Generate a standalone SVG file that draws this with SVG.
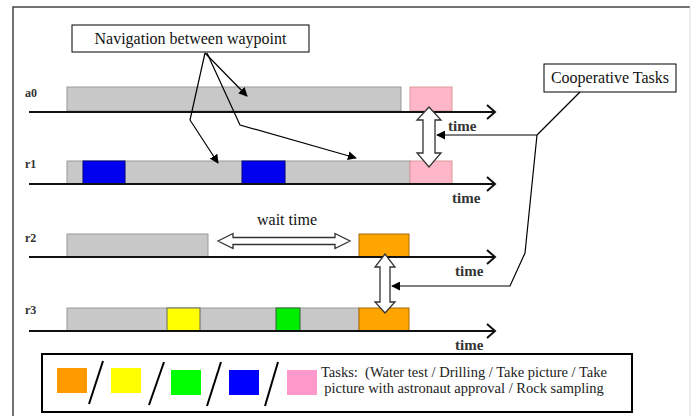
<svg xmlns="http://www.w3.org/2000/svg" width="691" height="416" viewBox="0 0 691 416">
  <defs>
    <marker id="tip" viewBox="0 0 10 10" refX="9" refY="5" markerWidth="9" markerHeight="9" markerUnits="userSpaceOnUse" orient="auto">
      <path d="M0,0 L10,5 L0,10 Z" fill="#000"/>
    </marker>
    <style>
      .frame { fill: none; stroke: #444; stroke-width: 1.5; }
      .axis { fill: none; stroke: #111; stroke-width: 2; }
      .chev { fill: none; stroke: #111; stroke-width: 2; stroke-linejoin: miter; }
      .bar { fill: #c8c8c8; stroke: #999; stroke-width: 1; }
      .nav { fill: #fff; stroke: #000; stroke-width: 1; }
      .lead { fill: none; stroke: #000; stroke-width: 1.2; }
      .hollow { fill: #fff; stroke: #333; stroke-width: 1.3; }
      text { font-family: 'Liberation Serif', 'DejaVu Serif', serif; }
      .lbl { font-size: 12px; font-weight: bold; fill: #333; }
      .time { font-size: 15px; font-weight: bold; fill: #333; }
      .txt { font-size: 16px; fill: #111; }
      .leg { font-size: 14.5px; fill: #222; }
    </style>
  </defs>

  <rect width="691" height="416" fill="#fff"/>
  <!-- page frame -->
  <path class="frame" d="M13,416 V7 H690"/>
  <line x1="690" y1="7" x2="690" y2="416" stroke="#ddd" stroke-width="1"/>

  <!-- timeline a0 -->
  <g id="row-a0">
    <rect class="bar" x="67" y="87" width="334" height="24"/>
    <rect x="410" y="87" width="42" height="24" fill="#ffb6c8" stroke="#d99" stroke-width="1"/>
    <line class="axis" x1="29" y1="112" x2="495" y2="112"/>
    <path class="chev" d="M487,105 L495,112 L487,119"/>
    <text class="lbl" x="25" y="97" font-family="Liberation Serif, serif">a0</text>
    <text class="time" x="448" y="131" font-family="Liberation Serif, serif">time</text>
  </g>

  <!-- timeline r1 -->
  <g id="row-r1">
    <rect class="bar" x="67" y="161" width="343" height="23"/>
    <rect x="83" y="161" width="42" height="23" fill="#0000ee" stroke="#000080" stroke-width="1"/>
    <rect x="242" y="161" width="43" height="23" fill="#0000ee" stroke="#000080" stroke-width="1"/>
    <rect x="410" y="161" width="42" height="23" fill="#ffb6c8" stroke="#d99" stroke-width="1"/>
    <line class="axis" x1="29" y1="184" x2="495" y2="184"/>
    <path class="chev" d="M487,177 L495,184 L487,191"/>
    <text class="lbl" x="25" y="168" font-family="Liberation Serif, serif">r1</text>
    <text class="time" x="452" y="203" font-family="Liberation Serif, serif">time</text>
  </g>

  <!-- timeline r2 -->
  <g id="row-r2">
    <rect class="bar" x="67" y="234" width="141" height="23"/>
    <rect x="359" y="234" width="50" height="23" fill="#ffa500" stroke="#a66a00" stroke-width="1"/>
    <line class="axis" x1="29" y1="257" x2="495" y2="257"/>
    <path class="chev" d="M487,250 L495,257 L487,264"/>
    <text class="lbl" x="25" y="242" font-family="Liberation Serif, serif">r2</text>
    <text class="time" x="455" y="276" font-family="Liberation Serif, serif">time</text>
  </g>

  <!-- timeline r3 -->
  <g id="row-r3">
    <rect class="bar" x="67" y="308" width="292" height="23"/>
    <rect x="167" y="308" width="33" height="23" fill="#ffff00" stroke="#666" stroke-width="1"/>
    <rect x="276" y="308" width="24" height="23" fill="#00ee00" stroke="#336633" stroke-width="1"/>
    <rect x="359" y="308" width="50" height="23" fill="#ffa500" stroke="#a66a00" stroke-width="1"/>
    <line class="axis" x1="29" y1="331" x2="495" y2="331"/>
    <path class="chev" d="M487,324 L495,331 L487,338"/>
    <text class="lbl" x="25" y="314" font-family="Liberation Serif, serif">r3</text>
    <text class="time" x="455" y="350" font-family="Liberation Serif, serif">time</text>
  </g>

  <!-- callout boxes -->
  <g id="nav-note">
    <rect class="nav" x="72" y="25" width="237" height="27"/>
    <text class="txt" x="190.5" y="44" text-anchor="middle" font-family="Liberation Serif, serif">Navigation between waypoint</text>
  </g>
  <g id="coop-note">
    <rect class="nav" x="544" y="64" width="132" height="28"/>
    <text class="txt" x="610" y="83" text-anchor="middle" font-family="Liberation Serif, serif">Cooperative Tasks</text>
  </g>

  <!-- wait time -->
  <g id="wait">
    <path class="hollow" d="M218,241 L233,233.5 L233,237.5 L335,237.5 L335,233.5 L350,241 L335,248.5 L335,244.5 L233,244.5 L233,248.5 Z"/>
    <text class="txt" x="287" y="225" text-anchor="middle" font-family="Liberation Serif, serif">wait time</text>
  </g>

  <!-- connectors -->
  <g id="connectors">
    <line class="lead" x1="205" y1="53" x2="247" y2="96" marker-end="url(#tip)"/>
    <polyline class="lead" points="205,53 190,120 218,163" marker-end="url(#tip)"/>
    <polyline class="lead" points="207,53 240,125 356,158" marker-end="url(#tip)"/>
    <line class="lead" x1="580" y1="92" x2="537" y2="135"/>
    <line class="lead" x1="537" y1="135" x2="437" y2="135" marker-end="url(#tip)"/>
    <polyline class="lead" points="537,135 525,253 510,286 392,286" marker-end="url(#tip)"/>
    <!-- sync arrows between robots -->
    <path class="hollow" d="M429,107 L441,120 L435,120 L435,153 L441,153 L429,167 L417,153 L423,153 L423,120 L417,120 Z"/>
    <path class="hollow" d="M385,254 L395,267 L390,267 L390,302 L395,302 L385,313 L375,302 L380,302 L380,267 L375,267 Z"/>
  </g>

  <!-- legend -->
  <g id="legend">
    <rect x="42" y="354" width="590" height="58" fill="#fff" stroke="#000" stroke-width="2"/>
    <rect x="57" y="368" width="30" height="25" fill="#ff9900"/>
    <line x1="103" y1="361" x2="89" y2="404" stroke="#000" stroke-width="2"/>
    <rect x="111" y="368" width="30" height="25" fill="#ffff00"/>
    <line x1="164" y1="362" x2="149" y2="405" stroke="#000" stroke-width="2"/>
    <rect x="171" y="370" width="30" height="25" fill="#00ff00"/>
    <line x1="221" y1="362" x2="207" y2="406" stroke="#000" stroke-width="2"/>
    <rect x="229" y="370" width="30" height="25" fill="#0000ff"/>
    <line x1="278" y1="362" x2="265" y2="406" stroke="#000" stroke-width="2"/>
    <rect x="287" y="370" width="30" height="25" fill="#ff99cc"/>
    <text class="leg" x="464" y="377" text-anchor="middle" xml:space="preserve" font-family="Liberation Serif, serif">Tasks:  (Water test / Drilling / Take picture / Take</text>
    <text class="leg" x="464" y="393" text-anchor="middle" font-family="Liberation Serif, serif">picture with astronaut approval / Rock sampling</text>
  </g>
</svg>
